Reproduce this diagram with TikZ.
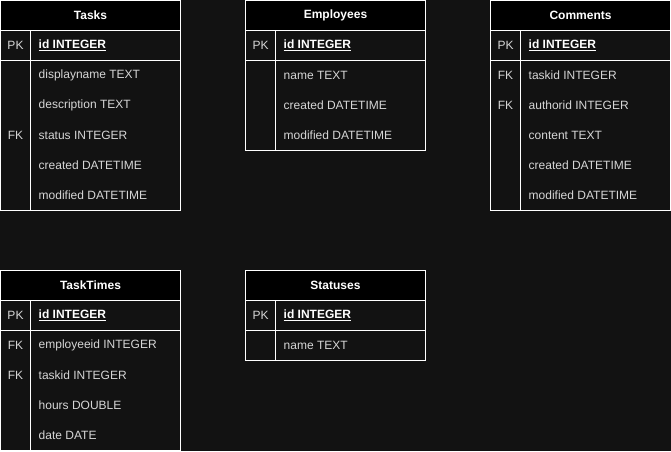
\documentclass[tikz,border=0pt]{standalone}
\usepackage{fontspec}
\setmainfont{Liberation Sans}
\definecolor{bgc}{HTML}{121212}
\definecolor{fldc}{HTML}{D6D6D6}
\tikzset{
  tline/.style={draw=white, line width=1pt},
  hdrtxt/.style={text=white, font=\fontsize{12}{14}\selectfont\bfseries, inner sep=0pt, anchor=center},
  fld/.style={text=fldc, font=\fontsize{12}{14}\selectfont, anchor=west, inner sep=0pt},
  pkfld/.style={text=white, font=\fontsize{12}{14}\selectfont\bfseries, anchor=west, inner sep=0pt},
  keyl/.style={text=fldc, font=\fontsize{12}{14}\selectfont, anchor=center, inner sep=0pt},
}
% #1 id, #2 x, #3 y, #4 number of body rows, #5 title
\newcommand\ertable[5]{%
  \fill[bgc] (#2,#3) rectangle ({#2+180},{#3+60+30*#4});
  \fill[black] (#2,#3) rectangle ({#2+180},{#3+30});
  \draw[tline] (#2,#3) rectangle ({#2+180},{#3+60+30*#4});
  \draw[tline] (#2,{#3+30}) -- ({#2+180},{#3+30});
  \draw[tline] (#2,{#3+60}) -- ({#2+180},{#3+60});
  \draw[tline] ({#2+30},{#3+30}) -- ({#2+30},{#3+60+30*#4});
  \node[hdrtxt] (#1-h) at ({#2+90},{#3+15}) {#5};
  \node[keyl] (#1-pk) at ({#2+15},{#3+45}) {PK};
}
% #1 node id, #2 x, #3 y, #4 row index (0 = PK row), #5 text
\newcommand\erfield[5]{%
  \node[fld] (#1) at ({#2+38},{#3+45+30*#4}) {#5};
}
\newcommand\erkey[4]{%
  \node[keyl] (#1) at ({#2+15},{#3+45+30*#4}) {FK};
}
\begin{document}
\begin{tikzpicture}[x=1pt,y=-1pt]
\fill[bgc] (0,0) rectangle (671,451);
\useasboundingbox (0,0) rectangle (671,451);

% Tasks
\ertable{ta}{0.5}{0.5}{5}{Tasks}
\node[pkfld] (ta-0) at (38.5,45.5) {\underline{id INTEGER}};
\erfield{ta-1}{0.5}{0.5}{1}{displayname TEXT}
\erfield{ta-2}{0.5}{0.5}{2}{description TEXT}
\erfield{ta-3}{0.5}{0.5}{3}{status INTEGER}
\erkey{ta-k3}{0.5}{0.5}{3}
\erfield{ta-4}{0.5}{0.5}{4}{created DATETIME}
\erfield{ta-5}{0.5}{0.5}{5}{modified DATETIME}

% Employees
\ertable{em}{245.5}{0.5}{3}{Employees}
\node[pkfld] (em-0) at (283.5,45.5) {\underline{id INTEGER}};
\erfield{em-1}{245.5}{0.5}{1}{name TEXT}
\erfield{em-2}{245.5}{0.5}{2}{created DATETIME}
\erfield{em-3}{245.5}{0.5}{3}{modified DATETIME}

% Comments
\ertable{co}{490.5}{0.5}{5}{Comments}
\node[pkfld] (co-0) at (528.5,45.5) {\underline{id INTEGER}};
\erfield{co-1}{490.5}{0.5}{1}{taskid INTEGER}
\erkey{co-k1}{490.5}{0.5}{1}
\erfield{co-2}{490.5}{0.5}{2}{authorid INTEGER}
\erkey{co-k2}{490.5}{0.5}{2}
\erfield{co-3}{490.5}{0.5}{3}{content TEXT}
\erfield{co-4}{490.5}{0.5}{4}{created DATETIME}
\erfield{co-5}{490.5}{0.5}{5}{modified DATETIME}

% TaskTimes
\ertable{tt}{0.5}{270.5}{4}{TaskTimes}
\node[pkfld] (tt-0) at (38.5,315.5) {\underline{id INTEGER}};
\erfield{tt-1}{0.5}{270.5}{1}{employeeid INTEGER}
\erkey{tt-k1}{0.5}{270.5}{1}
\erfield{tt-2}{0.5}{270.5}{2}{taskid INTEGER}
\erkey{tt-k2}{0.5}{270.5}{2}
\erfield{tt-3}{0.5}{270.5}{3}{hours DOUBLE}
\erfield{tt-4}{0.5}{270.5}{4}{date DATE}

% Statuses
\ertable{st}{245.5}{270.5}{1}{Statuses}
\node[pkfld] (st-0) at (283.5,315.5) {\underline{id INTEGER}};
\erfield{st-1}{245.5}{270.5}{1}{name TEXT}
\end{tikzpicture}
\end{document}
